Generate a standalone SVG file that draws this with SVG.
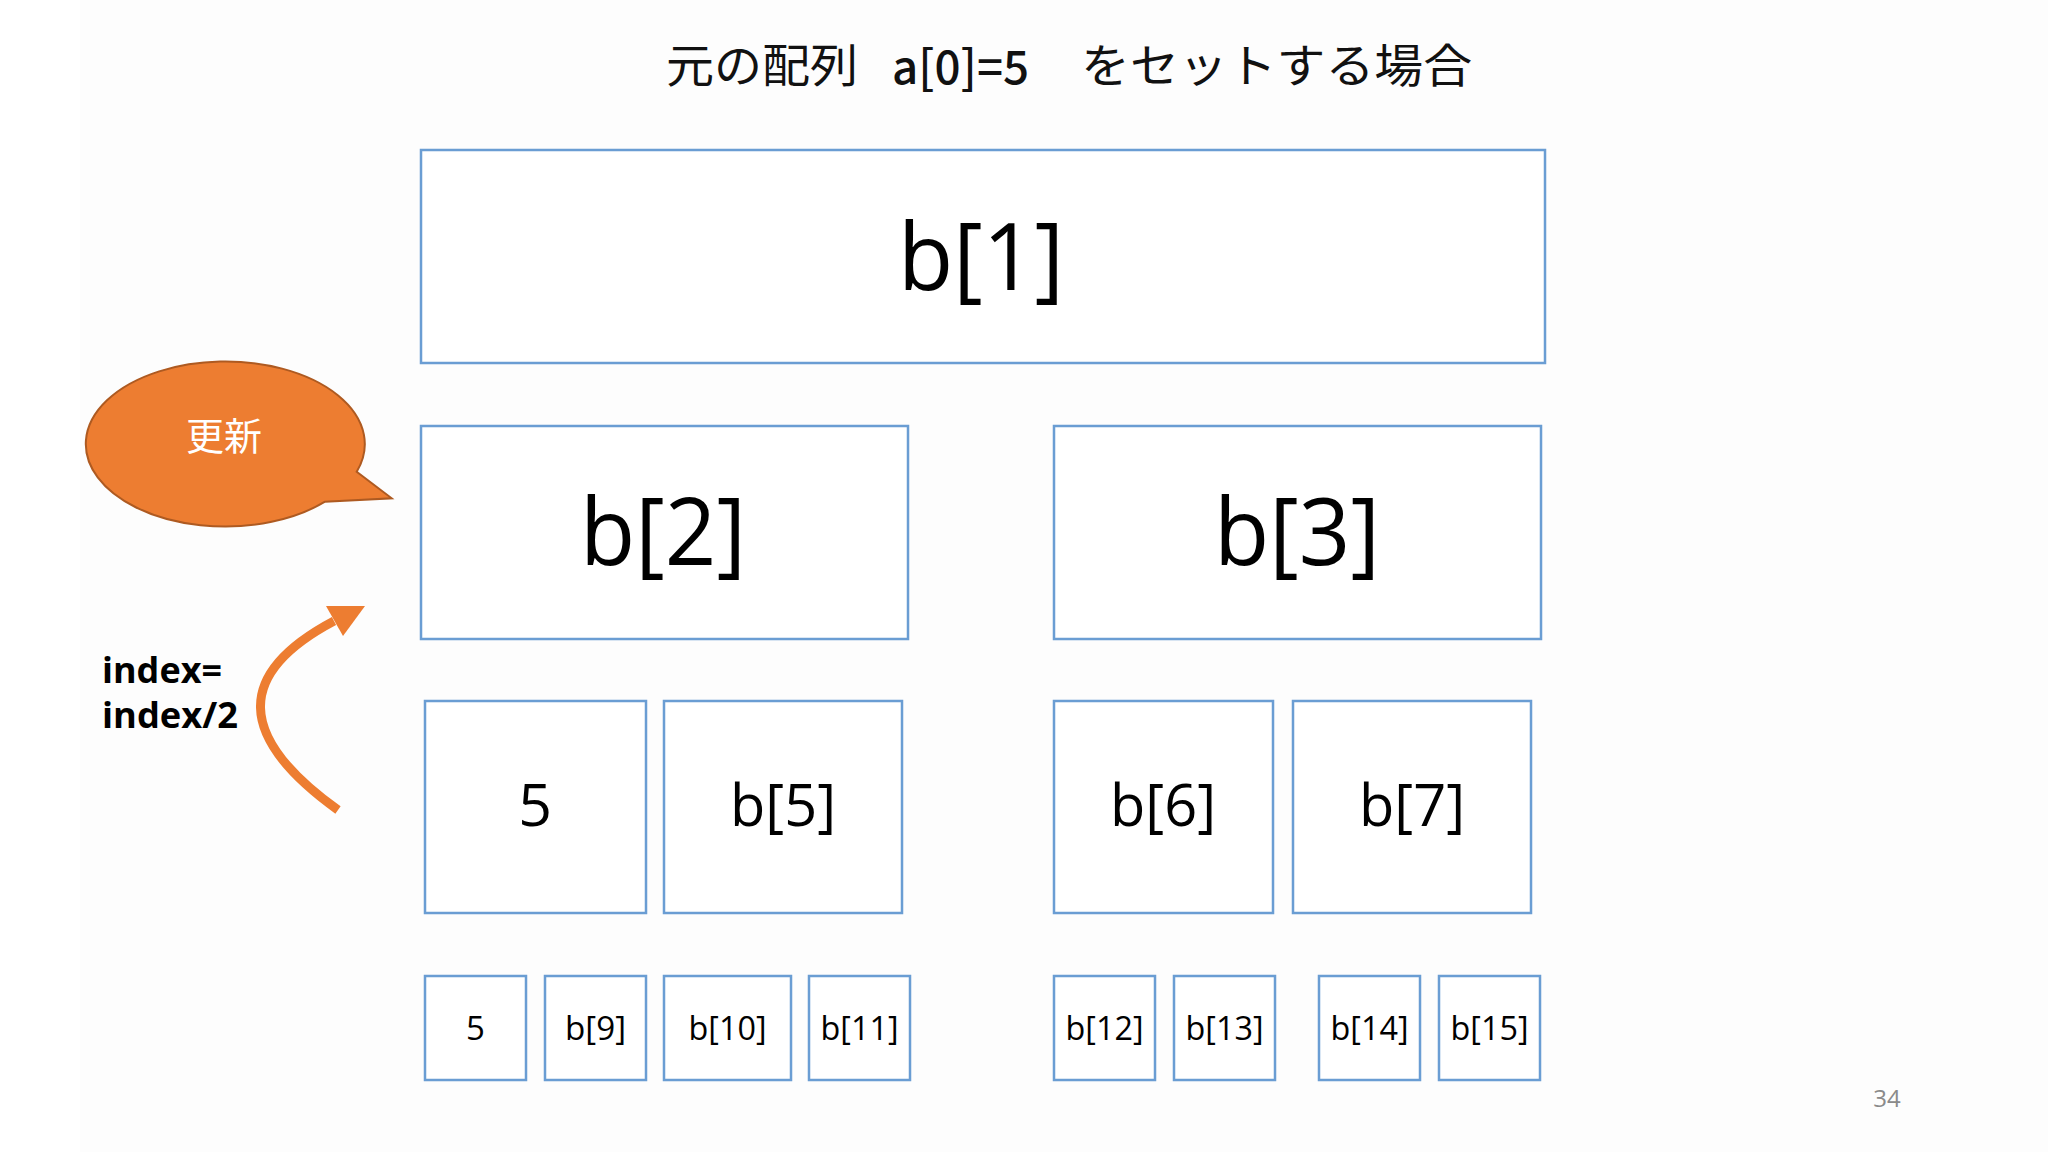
<svg xmlns="http://www.w3.org/2000/svg" width="2048" height="1152" viewBox="0 0 2048 1152">
<style>
.box{fill:#FFFFFF;stroke:#6A9DD3;stroke-width:2.5}
.lbl{font-family:"Open Sans","Noto Sans",sans-serif;fill:#000;text-anchor:middle}
.t{font-family:"Noto Sans CJK JP","Noto Sans",sans-serif;fill:#111}
</style>
<rect width="2048" height="1152" fill="#FFFFFF"/>
<rect x="80" y="0" width="1968" height="1152" fill="#FDFDFD"/>
<g id="title">
<text class="t" x="666" y="82" font-size="46" textLength="192" lengthAdjust="spacingAndGlyphs">元の配列</text>
<text class="t" x="892" y="84" font-size="46" font-family="Open Sans" font-weight="500" textLength="137" lengthAdjust="spacingAndGlyphs">a[0]=5</text>
<text class="t" x="1081" y="82" font-size="46" textLength="391" lengthAdjust="spacingAndGlyphs">をセットする場合</text>
</g>
<g id="b1"><rect class="box" x="421" y="150" width="1124" height="213"/><text class="lbl" x="981" y="290" font-size="93" textLength="166" lengthAdjust="spacingAndGlyphs">b[1]</text></g>
<g id="b2"><rect class="box" x="421" y="426" width="487" height="213"/><text class="lbl" x="663" y="565" font-size="93" textLength="166" lengthAdjust="spacingAndGlyphs">b[2]</text></g>
<g id="b3"><rect class="box" x="1054" y="426" width="487" height="213"/><text class="lbl" x="1297" y="565" font-size="93" textLength="166" lengthAdjust="spacingAndGlyphs">b[3]</text></g>
<g id="b4"><rect class="box" x="425" y="701" width="221" height="212"/><text class="lbl" x="535" y="826" font-size="59">5</text></g>
<g id="b5"><rect class="box" x="664" y="701" width="238" height="212"/><text class="lbl" x="783" y="826" font-size="59" textLength="106" lengthAdjust="spacingAndGlyphs">b[5]</text></g>
<g id="b6"><rect class="box" x="1054" y="701" width="219" height="212"/><text class="lbl" x="1163" y="826" font-size="59" textLength="106" lengthAdjust="spacingAndGlyphs">b[6]</text></g>
<g id="b7"><rect class="box" x="1293" y="701" width="238" height="212"/><text class="lbl" x="1412" y="826" font-size="59" textLength="106" lengthAdjust="spacingAndGlyphs">b[7]</text></g>
<g id="b8"><rect class="box" x="425" y="976" width="101" height="104"/><text class="lbl" x="475.5" y="1040" font-size="33">5</text></g>
<g id="b9"><rect class="box" x="545" y="976" width="101" height="104"/><text class="lbl" x="595.5" y="1040" font-size="33" textLength="61" lengthAdjust="spacingAndGlyphs">b[9]</text></g>
<g id="b10"><rect class="box" x="664" y="976" width="127" height="104"/><text class="lbl" x="727.5" y="1040" font-size="33" textLength="78" lengthAdjust="spacingAndGlyphs">b[10]</text></g>
<g id="b11"><rect class="box" x="809" y="976" width="101" height="104"/><text class="lbl" x="859.5" y="1040" font-size="33" textLength="78" lengthAdjust="spacingAndGlyphs">b[11]</text></g>
<g id="b12"><rect class="box" x="1054" y="976" width="101" height="104"/><text class="lbl" x="1104.5" y="1040" font-size="33" textLength="78" lengthAdjust="spacingAndGlyphs">b[12]</text></g>
<g id="b13"><rect class="box" x="1174" y="976" width="101" height="104"/><text class="lbl" x="1224.5" y="1040" font-size="33" textLength="78" lengthAdjust="spacingAndGlyphs">b[13]</text></g>
<g id="b14"><rect class="box" x="1319" y="976" width="101" height="104"/><text class="lbl" x="1369.5" y="1040" font-size="33" textLength="78" lengthAdjust="spacingAndGlyphs">b[14]</text></g>
<g id="b15"><rect class="box" x="1439" y="976" width="101" height="104"/><text class="lbl" x="1489.5" y="1040" font-size="33" textLength="78" lengthAdjust="spacingAndGlyphs">b[15]</text></g>
<g id="callout">
<path d="M 356.7 471.7 A 139.5 82.5 0 1 0 325 501.7 L 391.7 498.3 Z" fill="#ED7D31" stroke="#AE5A21" stroke-width="2"/>
<text x="224" y="450" font-family="Noto Sans CJK JP, sans-serif" font-size="38" fill="#FFFFFF" text-anchor="middle">更新</text>
</g>
<g id="note">
<text font-family="Open Sans, sans-serif" font-weight="bold" font-size="35" fill="#000">
<tspan x="102" y="683" textLength="120" lengthAdjust="spacingAndGlyphs">index=</tspan>
<tspan x="102" y="728" textLength="136" lengthAdjust="spacingAndGlyphs">index/2</tspan>
</text>
</g>
<g id="connectors">
<path d="M 338 810 Q 185 700 334 621" fill="none" stroke="#ED7D31" stroke-width="9"/>
<polygon points="365,606 326,606 343,636" fill="#ED7D31"/>
</g>
<text x="1887" y="1107" font-family="Open Sans, sans-serif" font-size="24" fill="#8A8A8A" text-anchor="middle">34</text>
</svg>
